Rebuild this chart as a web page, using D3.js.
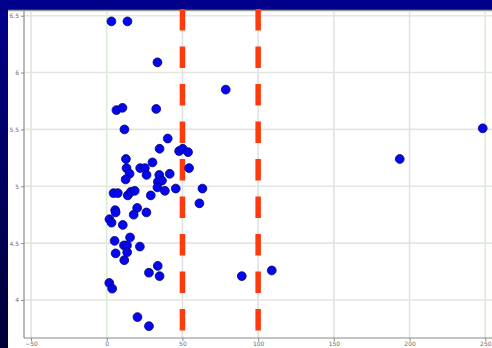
<!DOCTYPE html>
<html>
<head>
<meta charset="utf-8">
<script src="https://cdn.jsdelivr.net/npm/d3@7"></script>
<style>
  html, body { margin: 0; padding: 0; background: #000080; }
  svg { display: block; }
</style>
</head>
<body>
<svg id="chart" width="492" height="348"></svg>
<script>
// Scatter values (x, y)
const xValues = [3.1, 13.7, 33.5, 78.6, 6.4, 10.4, 32.7, 11.7, 40.3, 34.9,
  47.8, 50.2, 53.7, 12.7, 30.2, 54.4, 13.1, 22.1, 25.2, 15.1,
  26.3, 34.7, 41.6, 12.5, 33.8, 36.5, 33.5, 38.4, 45.6, 63.2,
  61.2, 4.5, 7.3, 13.9, 15.9, 18.5, 29.1, 5.6, 5.9, 20.1,
  17.8, 26.2, 1.8, 3.2, 10.6, 5.2, 15.4, 11.4, 13.4, 21.9,
  5.9, 13.5, 11.6, 27.9, 33.7, 34.9, 1.7, 3.6, 20.3, 27.9,
  89.2, 109.0, 193.5, 248.3];
const yValues = [6.45, 6.45, 6.09, 5.85, 5.67, 5.69, 5.68, 5.50, 5.42, 5.33,
  5.31, 5.33, 5.30, 5.24, 5.21, 5.16, 5.16, 5.16, 5.16, 5.11,
  5.10, 5.10, 5.11, 5.06, 5.04, 5.05, 4.99, 4.96, 4.98, 4.98,
  4.85, 4.94, 4.94, 4.92, 4.95, 4.96, 4.92, 4.79, 4.77, 4.81,
  4.75, 4.77, 4.71, 4.68, 4.66, 4.52, 4.55, 4.48, 4.48, 4.47,
  4.41, 4.42, 4.35, 4.24, 4.30, 4.21, 4.15, 4.10, 3.85, 3.77,
  4.21, 4.26, 5.24, 5.51];
// Threshold markers on the x axis
const thresholds = [50, 100];
// Tick labels
const xTicks = [-50, 0, 50, 100, 150, 200, 250];
const yTicks = [4, 4.5, 5, 5.5, 6, 6.5];

const svg = d3.select("#chart");
const W = 492, H = 348;

// Background: deep blue frame with a slight vertical gradient
const defs = svg.append("defs");
const grad = defs.append("linearGradient")
  .attr("id", "bg").attr("x1", 0).attr("y1", 0).attr("x2", 0).attr("y2", 1);
grad.append("stop").attr("offset", "0%").attr("stop-color", "#00008c");
grad.append("stop").attr("offset", "100%").attr("stop-color", "#000038");
svg.append("rect").attr("width", W).attr("height", H).attr("fill", "url(#bg)");

// White panel
const panel = { left: 8, top: 10 };
svg.append("rect")
  .attr("x", panel.left).attr("y", panel.top)
  .attr("width", W - panel.left).attr("height", H - panel.top)
  .attr("fill", "#ffffff");
svg.append("line")
  .attr("x1", panel.left).attr("x2", W)
  .attr("y1", panel.top + 0.5).attr("y2", panel.top + 0.5)
  .attr("stroke", "#9a9a9a").attr("stroke-width", 1.5);

// Plot frame
const axisX = 24, axisY = 338, plotTop = 11;
const x = d3.scaleLinear().domain([-50, 250]).range([31, 485.3]);
const y = d3.scaleLinear().domain([4, 6.5]).range([300, 15.7]);

// Grid lines
const grid = svg.append("g");
grid.selectAll("line.h").data(yTicks).join("line")
  .attr("x1", axisX).attr("x2", W)
  .attr("y1", d => y(d)).attr("y2", d => y(d))
  .attr("stroke", "#e6e6df").attr("stroke-width", 1.6);
grid.selectAll("line.v").data(xTicks).join("line")
  .attr("x1", d => x(d)).attr("x2", d => x(d))
  .attr("y1", plotTop).attr("y2", axisY)
  .attr("stroke", d => (d === 0 || d === 250) ? "#d6efd6" : "#e2e2e2")
  .attr("stroke-width", 1.6);

// Axes
const yAxis = d3.axisLeft(y).tickValues(yTicks).tickSize(3).tickPadding(2)
  .tickFormat(d3.format("~g"));
const gy = svg.append("g").attr("transform", `translate(${axisX},0)`).call(yAxis);
const xAxis = d3.axisBottom(x).tickValues(xTicks).tickSize(3).tickPadding(1)
  .tickFormat(d3.format("d"));
const gx = svg.append("g").attr("transform", `translate(0,${axisY})`).call(xAxis);

gy.select(".domain").attr("d", `M0,${plotTop}V${axisY}`);
gx.select(".domain").attr("d", `M${axisX},0H${W}`);
[gx, gy].forEach(g => {
  g.select(".domain").attr("stroke", "#8a8a8a").attr("stroke-width", 1.2);
  g.selectAll(".tick line").attr("stroke", "#8a8a8a");
  g.selectAll(".tick text")
    .attr("fill", "#6e6e6e")
    .style("font-family", "DejaVu Sans, sans-serif")
    .style("font-size", "6px");
});

// Dashed threshold lines
svg.append("g").selectAll("line").data(thresholds).join("line")
  .attr("x1", d => x(d)).attr("x2", d => x(d))
  .attr("y1", 9).attr("y2", axisY)
  .attr("stroke", "#ff3a0c").attr("stroke-width", 5.5)
  .attr("stroke-dasharray", "21.5,16");

// Points
const pts = xValues.map((v, i) => ({ x: v, y: yValues[i] }));
svg.append("g").selectAll("circle").data(pts).join("circle")
  .attr("cx", d => x(d.x)).attr("cy", d => y(d.y))
  .attr("r", 4.4)
  .attr("fill", "#0606ee")
  .attr("stroke", "#00007a").attr("stroke-width", 0.8);
</script>
</body>
</html>
